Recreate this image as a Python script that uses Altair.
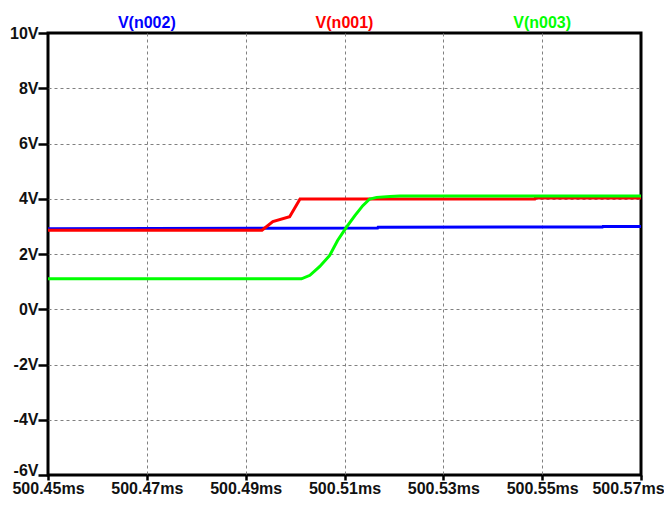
import altair as alt
import pandas as pd

# ---- data ----
n002_t = [500.45, 500.5167, 500.5168, 500.5622, 500.5623, 500.57]
n002_v = [2.91, 2.94, 2.97, 2.98, 3.00, 3.00]

n001_t = [500.45, 500.4933, 500.4955, 500.4989, 500.5010, 500.5485, 500.5486, 500.57]
n001_v = [2.86, 2.86, 3.17, 3.35, 3.99, 3.99, 4.03, 4.03]

n003_t = [500.45, 500.5013, 500.5030, 500.5050, 500.5070, 500.5086, 500.5104,
          500.5121, 500.5137, 500.5151, 500.5165, 500.5192, 500.5212, 500.57]
n003_v = [1.10, 1.10, 1.23, 1.55, 1.95, 2.49, 2.97, 3.39, 3.75, 3.99, 4.05,
          4.08, 4.10, 4.10]

x_ticks = [500.45, 500.47, 500.49, 500.51, 500.53, 500.55, 500.57]
y_ticks = [-6, -4, -2, 0, 2, 4, 6, 8, 10]

trace_names = ["V(n002)", "V(n001)", "V(n003)"]
trace_colors = ["#0000ff", "#ff0000", "#00ff00"]
label_pos = [500.47, 500.51, 500.55]

FONT = "Liberation Sans, Arial"

xscale = alt.Scale(domain=[500.45, 500.57], nice=False, zero=False)
yscale = alt.Scale(domain=[-6, 10], nice=False, zero=False)

edge_x = "datum.value < 500.451 || datum.value > 500.569"
edge_y = "datum.value < -5.9 || datum.value > 9.9"

x_axis = alt.Axis(
    values=x_ticks, title=None, domain=False,
    labelExpr="format(datum.value, '.2f') + 'ms'",
    tickSize=5, tickWidth=2.5, tickColor="black",
    labelPadding=0, labelFont=FONT, labelFontSize=16, labelFontWeight="bold",
    labelColor="#111111", labelFlush=False, labelOverlap=False,
    labelOffset={"condition": {"test": "datum.value > 500.569", "value": -13}, "value": 0},
    grid=True, gridColor="#808080", gridDash=[3, 3], gridWidth=1,
    gridOpacity={"condition": {"test": edge_x, "value": 0}, "value": 1},
)
y_axis = alt.Axis(
    values=y_ticks, title=None, domain=False,
    labelExpr="datum.value + 'V'",
    tickSize=10, tickWidth=2.5, tickColor="black",
    labelPadding=0, labelFont=FONT, labelFontSize=16, labelFontWeight="bold",
    labelColor="#111111", labelFlush=False, labelOverlap=False,
    labelOffset={"condition": {"test": "datum.value < -5.9", "value": -5}, "value": 0},
    grid=True, gridColor="#808080", gridDash=[3, 3], gridWidth=1,
    gridOpacity={"condition": {"test": edge_y, "value": 0}, "value": 1},
)

X = lambda: alt.X("t:Q", scale=xscale, axis=x_axis)
Y = lambda: alt.Y("v:Q", scale=yscale, axis=y_axis)


def trace(ts, vs, color):
    df = pd.DataFrame({"t": ts, "v": vs})
    return alt.Chart(df).mark_line(color=color, strokeWidth=3).encode(x=X(), y=Y())


labels_df = pd.DataFrame({"t": label_pos, "name": trace_names})
labels = alt.Chart(labels_df).mark_text(
    font=FONT, fontSize=16, fontWeight="bold", baseline="alphabetic", align="center"
).encode(
    x=X(),
    y=alt.value(-5),
    text="name:N",
    color=alt.Color("name:N", scale=alt.Scale(domain=trace_names, range=trace_colors), legend=None),
)

chart = alt.layer(
    trace(n002_t, n002_v, trace_colors[0]),
    trace(n001_t, n001_v, trace_colors[1]),
    trace(n003_t, n003_v, trace_colors[2]),
    labels,
).properties(
    width=593, height=442,
    autosize=alt.AutoSizeParams(type="none"),
    padding={"left": 40, "top": 25, "right": 23, "bottom": 22},
    background="white",
).configure_view(
    stroke="black", strokeWidth=3
)

chart.save("out.html", embed_options={"renderer": "svg", "actions": False})
